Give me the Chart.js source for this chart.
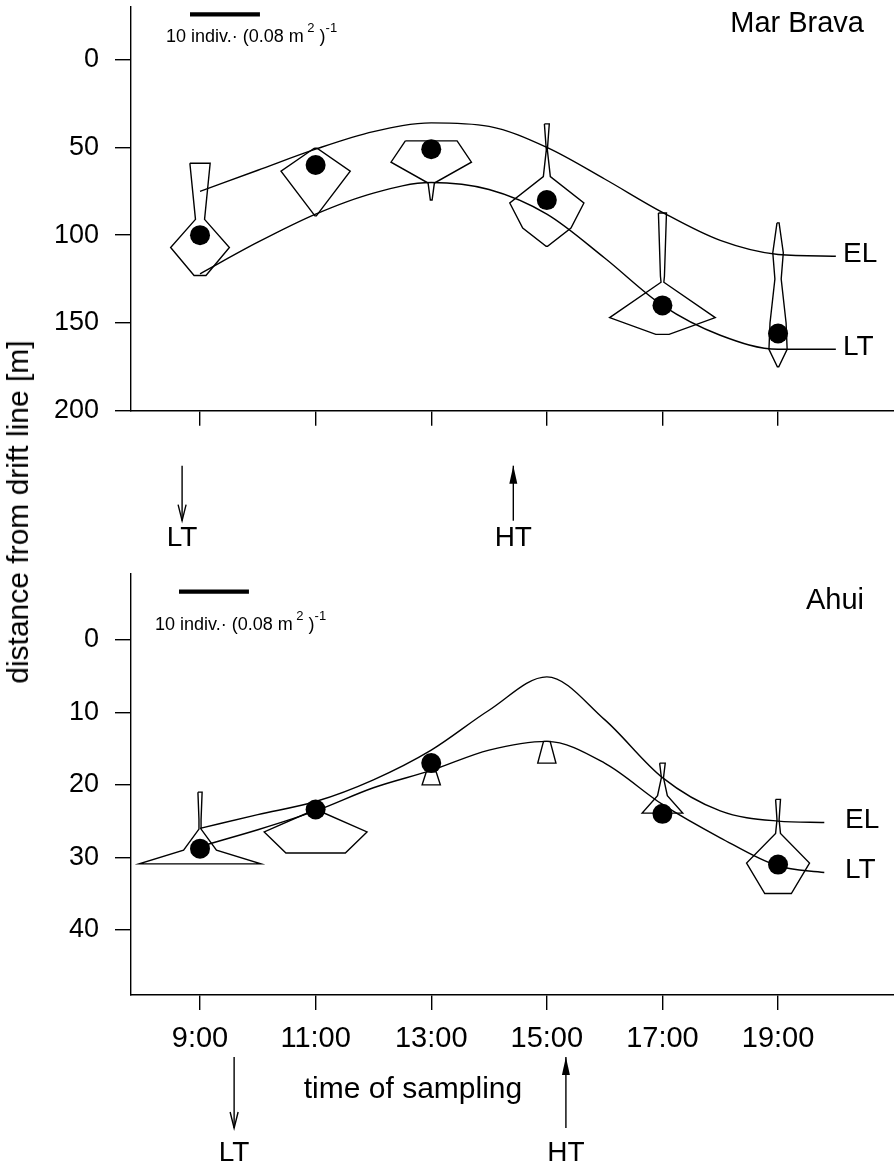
<!DOCTYPE html>
<html>
<head>
<meta charset="utf-8">
<script src="https://cdn.jsdelivr.net/npm/chart.js@4.4.1/dist/chart.umd.min.js"></script>
<style>
  body { margin: 0; background: #fff; width: 894px; height: 1168px; position: relative; overflow: hidden; font-family: 'Liberation Sans', Arial, sans-serif; }
  #top { position: absolute; left: 0; top: 0; }
  #bot { position: absolute; left: 0; top: 560px; }
  #ytitle { position: absolute; left: 18px; top: 512px; transform: translate(-50%, -50%) rotate(-90deg); font-size: 30px; white-space: nowrap; color: #000; }
</style>
</head>
<body>
<canvas id="top" width="894" height="560"></canvas>
<canvas id="bot" width="894" height="608"></canvas>
<div id="ytitle">distance from drift line [m]</div>
<script>
// --- DATA ---
const sampleTimes = [9, 11, 13, 15, 17, 19];
const timeLabels = ['9:00', '11:00', '13:00', '15:00', '17:00', '19:00'];
const HOURS_PER_INDIV = 0.121; // 10 indiv. on the scale bar = 1.21 h of time axis

// Mar Brava
const mbDistTicks = [0, 50, 100, 150, 200];
const mbCentres = [100, 60, 51, 80, 140, 156];
const mbCurveTimes = [9, 10, 11, 12, 13, 14, 15, 16, 17, 18, 19, 20];
const mbEL = [75, 63, 51, 41, 36, 38, 50, 68, 87, 103, 111, 112];
const mbLT = [122, 104, 88, 76, 70, 74, 88, 113, 140, 157, 165, 165];
// kite profiles: [distance, abundance (indiv.)] from top to bottom
const mbKites = [
  [[59, 2.9], [91, 1.3], [107, 8.4], [123, 1.7]],
  [[50.5, 0.4], [63.5, 9.9], [89, 0.2]],
  [[46.3, 7.4], [58.4, 11.5], [70.3, 0.9], [80, 0.25]],
  [[36.6, 0.7], [51.4, 0.15], [66.6, 1.0], [81.7, 10.6], [96, 6.9], [106.3, 0.2]],
  [[87.4, 1.15], [123.4, 0.57], [126.8, 0.4], [147, 15.1], [156.5, 1.9]],
  [[93, 0.3], [110, 1.5], [125, 0.9], [150, 2.3], [165, 2.6], [175, 0.2]]
];
const mbTides = [['LT', 8.69], ['HT', 14.42]];

// Ahui
const ahDistTicks = [0, 10, 20, 30, 40];
const ahCentres = [28.8, 23.4, 17, null, 24, 31];
const ahCurveTimes = [9, 10, 11, 12, 13, 14, 15, 16, 17, 18, 19, 19.8];
const ahEL = [26, 24.1, 22.3, 19.3, 15.2, 9.7, 5.1, 11, 19, 23.6, 25, 25.2];
const ahLT = [28.5, 26.2, 23.6, 20.4, 18, 15.2, 14, 17, 22.7, 27.3, 31.2, 32.1];
const ahKites = [
  [[21, 0.6], [24.8, 0.3], [26.1, 0.3], [29, 4.7], [30.9, 17.4]],
  [[23.4, 0.1], [26.5, 14.7], [29.4, 8.5]],
  [[18.2, 1.4], [20, 2.6]],
  [[14, 0.95], [17, 2.6]],
  [[17, 0.8], [19, 0.3], [21.5, 1.4], [23.9, 5.8]],
  [[22, 0.7], [24.8, 0.3], [26.7, 0.7], [30.8, 9.0], [35, 3.8]]
];
const ahTides = [['LT', 9.59], ['HT', 15.33]];

const FONT = "'Liberation Sans', Arial, sans-serif";
Chart.defaults.font.family = FONT;
Chart.defaults.color = '#000';

// --- HELPERS ---
const kiteOutline = (t, profile) => {
  const left = profile.map(([d, a]) => ({ x: t - a * HOURS_PER_INDIV / 2, y: d }));
  const right = profile.map(([d, a]) => ({ x: t + a * HOURS_PER_INDIV / 2, y: d })).reverse();
  return [...left, ...right, left[0]];
};

const buildDatasets = (centres, curveTimes, el, lt, kites) => {
  const line = { borderColor: '#000', borderWidth: 1.4, pointRadius: 0, fill: false };
  const ds = [
    { ...line, label: 'EL', data: curveTimes.map((t, i) => ({ x: t, y: el[i] })), cubicInterpolationMode: 'monotone' },
    { ...line, label: 'LT', data: curveTimes.map((t, i) => ({ x: t, y: lt[i] })), cubicInterpolationMode: 'monotone' }
  ];
  kites.forEach((p, i) => ds.push({ ...line, label: 'kite ' + timeLabels[i], data: kiteOutline(sampleTimes[i], p), tension: 0 }));
  ds.push({
    label: 'centre', showLine: false, pointRadius: 10, pointBackgroundColor: '#000', pointBorderWidth: 0,
    data: sampleTimes.map((t, i) => ({ x: t, y: centres[i] })).filter(p => p.y !== null)
  });
  return ds;
};

const drawScaleText = (ctx, x, y) => {
  const parts = [['10 indiv.\u00b7 (0.08 m', 0, 18], [' 2', -10, 13], [' )', 0, 18], ['-1', -10, 13]];
  ctx.textAlign = 'left';
  ctx.textBaseline = 'alphabetic';
  parts.forEach(([s, dy, size]) => {
    ctx.font = size + 'px ' + FONT;
    ctx.fillText(s, x, y + dy);
    x += ctx.measureText(s).width;
  });
};

// --- ANNOTATIONS PLUGIN ---
const extras = {
  id: 'extras',
  afterDraw(chart, args, o) {
    const { ctx, chartArea: ca, scales: { x } } = chart;
    ctx.save();
    ctx.fillStyle = '#000';
    ctx.strokeStyle = '#000';

    // panel title
    ctx.font = '29px ' + FONT;
    ctx.textAlign = 'right';
    ctx.textBaseline = 'alphabetic';
    ctx.fillText(o.title, ca.right - 30, o.titleY);

    // scale bar (10 indiv.)
    const bx = ca.left + o.barLeft;
    const bw = x.getPixelForValue(x.min + 10 * HOURS_PER_INDIV) - x.getPixelForValue(x.min);
    ctx.lineWidth = 4.3;
    ctx.beginPath();
    ctx.moveTo(bx, o.barY);
    ctx.lineTo(bx + bw, o.barY);
    ctx.stroke();
    drawScaleText(ctx, ca.left + o.textLeft, o.barY + o.textDrop);

    // curve labels at the end of EL / LT
    ctx.font = '28px ' + FONT;
    ctx.textAlign = 'left';
    ctx.textBaseline = 'middle';
    ['EL', 'LT'].forEach((name, i) => {
      const pts = chart.getDatasetMeta(i).data;
      ctx.fillText(name, ca.left + o.labelLeft, pts[pts.length - 1].y - 2);
    });

    // tide arrows under the time axis
    const base = x.top;
    ctx.lineWidth = 1.4;
    o.tides.forEach(([name, t]) => {
      const px = x.getPixelForValue(t);
      const y1 = base + o.arrowTop, y2 = base + o.arrowBottom;
      ctx.beginPath();
      ctx.moveTo(px, y1);
      ctx.lineTo(px, y2);
      ctx.stroke();
      if (name === 'LT') {
        ctx.beginPath();
        ctx.moveTo(px - 4, y2 - 16);
        ctx.lineTo(px, y2);
        ctx.lineTo(px + 4, y2 - 16);
        ctx.stroke();
      } else {
        ctx.beginPath();
        ctx.moveTo(px, y1);
        ctx.lineTo(px - 4, y1 + 18);
        ctx.lineTo(px + 4, y1 + 18);
        ctx.closePath();
        ctx.fill();
      }
      ctx.font = '28px ' + FONT;
      ctx.textAlign = 'center';
      ctx.textBaseline = 'alphabetic';
      ctx.fillText(name, px, base + o.labelBase);
    });

    if (o.xTitle) {
      ctx.font = '30px ' + FONT;
      ctx.textAlign = 'center';
      ctx.fillText(o.xTitle, ca.left + 282, base + 103);
    }
    ctx.restore();
  }
};

// --- CHARTS ---
const makeChart = (id, c) => new Chart(document.getElementById(id), {
  type: 'line',
  data: { datasets: buildDatasets(c.centres, c.curveTimes, c.el, c.lt, c.kites) },
  options: {
    responsive: false,
    animation: false,
    layout: { autoPadding: false, padding: { top: c.padTop, left: 0, right: 0, bottom: 0 } },
    plugins: { legend: { display: false }, tooltip: { enabled: false }, extras: c.extras },
    scales: {
      x: {
        type: 'linear', min: 7.806, max: 21.006,
        afterBuildTicks: s => { s.ticks = sampleTimes.map(v => ({ value: v })); },
        afterFit: s => { s.height = c.xHeight; s.paddingLeft = 0; s.paddingRight = 0; },
        ticks: {
          display: c.showTimes, autoSkip: false, maxRotation: 0, padding: 12,
          font: { size: 29 }, color: '#000',
          callback: v => timeLabels[sampleTimes.indexOf(v)]
        },
        grid: { drawOnChartArea: false, drawTicks: true, tickLength: 15, color: '#000', lineWidth: 1.4 },
        border: { display: true, color: '#000', width: 1.4 }
      },
      y: {
        type: 'linear', reverse: true, min: c.yMin, max: c.yMax,
        afterBuildTicks: s => { s.ticks = c.ticks.map(v => ({ value: v })); },
        afterFit: s => { s.width = 131; s.paddingTop = 0; s.paddingBottom = 0; },
        ticks: { font: { size: 27 }, color: '#000', padding: 16 },
        grid: { drawOnChartArea: false, drawTicks: true, tickLength: 16, color: '#000', lineWidth: 1.4 },
        border: { display: true, color: '#000', width: 1.4 }
      }
    }
  },
  plugins: [extras]
});

makeChart('top', {
  centres: mbCentres, curveTimes: mbCurveTimes, el: mbEL, lt: mbLT, kites: mbKites,
  ticks: mbDistTicks, yMin: -30, yMax: 200, padTop: 7, xHeight: 149.3, showTimes: false,
  extras: {
    title: 'Mar Brava', titleY: 32, barLeft: 59, barY: 14.3, textLeft: 35, textDrop: 27.5,
    labelLeft: 712, tides: mbTides, arrowTop: 55, arrowBottom: 110, labelBase: 135
  }
});

makeChart('bot', {
  centres: ahCentres, curveTimes: ahCurveTimes, el: ahEL, lt: ahLT, kites: ahKites,
  ticks: ahDistTicks, yMin: -9.1, yMax: 49, padTop: 14, xHeight: 173, showTimes: true,
  extras: {
    title: 'Ahui', titleY: 49, barLeft: 48, barY: 31.7, textLeft: 24, textDrop: 38,
    labelLeft: 714, tides: ahTides, arrowTop: 62, arrowBottom: 133, labelBase: 166,
    xTitle: 'time of sampling'
  }
});
</script>
</body>
</html>
